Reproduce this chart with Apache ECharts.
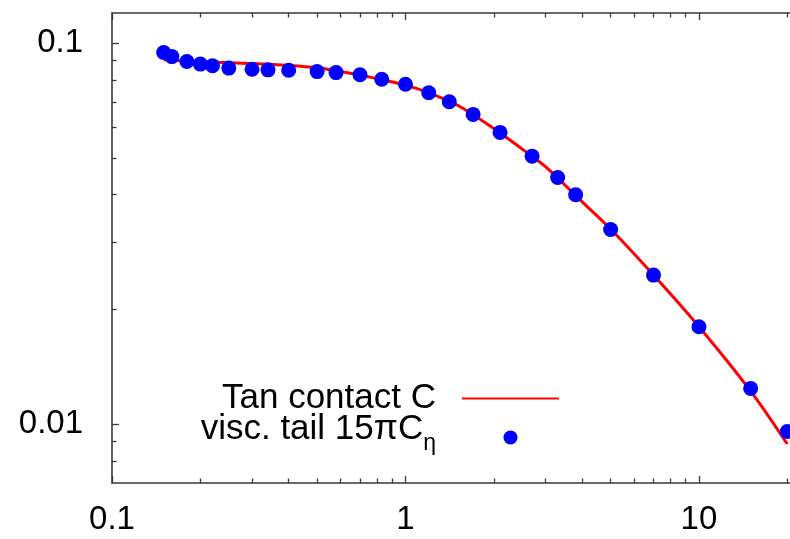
<!DOCTYPE html>
<html>
<head>
<meta charset="utf-8">
<script src="https://cdn.jsdelivr.net/npm/echarts@6/dist/echarts.min.js"></script>
<style>
html,body{margin:0;padding:0;background:#fff;}
#chart{width:790px;height:539px;}
</style>
</head>
<body>
<div id="chart"></div>
<script>
// ---- data ----
const lineX = [0.15, 0.17, 0.2, 0.25, 0.3, 0.4, 0.5, 0.6, 0.7, 0.8, 1.0, 1.2, 1.5, 2.0, 2.5, 3.0, 4.0, 5.0, 7.0, 10, 15, 20];
const lineY = [0.0905, 0.0899, 0.0893, 0.0888, 0.0884, 0.0874, 0.0862, 0.0843, 0.0825, 0.0806, 0.0776, 0.0741, 0.0688, 0.0597, 0.0527, 0.0474, 0.0383, 0.0325, 0.0246, 0.0180, 0.0122, 0.00886];
const dotX = [0.15, 0.16, 0.18, 0.2, 0.22, 0.25, 0.3, 0.34, 0.4, 0.5, 0.58, 0.7, 0.83, 1.0, 1.2, 1.41, 1.7, 2.1, 2.7, 3.3, 3.8, 5.0, 7.0, 10, 15, 20];
const dotY = [0.0945, 0.0922, 0.0895, 0.0881, 0.0872, 0.0860, 0.0854, 0.0851, 0.0849, 0.0842, 0.0837, 0.0826, 0.0804, 0.0780, 0.0741, 0.0702, 0.0650, 0.0583, 0.0505, 0.0444, 0.0400, 0.0324, 0.0246, 0.0180, 0.0124, 0.00956];
const xMajorTicks = [0.1, 1, 10];
const xMinorTicks = [0.2, 0.3, 0.4, 0.5, 0.6, 0.7, 0.8, 0.9, 2, 3, 4, 5, 6, 7, 8, 9, 20, 30];
const yMajorTicks = [0.01, 0.1];
const yMinorTicks = [0.008, 0.009, 0.02, 0.03, 0.04, 0.05, 0.06, 0.07, 0.08, 0.09];
const seriesNames = ['Tan contact C', 'visc. tail 15πCη'];

const FONT = 'Liberation Sans, Arial, Helvetica, sans-serif';
const AXC = '#3a3a3a';
const xRange = [0.1, 30];
const yRange = [0.007, 0.12];

function xAxisDef(pos, ticks, len, showLine, showLabel) {
  return {
    type: 'log', logBase: 10, position: pos, gridIndex: 0,
    min: xRange[0], max: xRange[1],
    axisLine: { show: showLine, lineStyle: { color: AXC, width: 1.6 } },
    axisTick: { show: true, inside: true, length: len, customValues: ticks, lineStyle: { color: AXC, width: 1.3 } },
    axisLabel: showLabel ? { show: true, customValues: ticks, fontSize: 33, fontFamily: FONT, color: '#000', margin: 20 } : { show: false },
    splitLine: { show: false }, minorTick: { show: false }
  };
}
function yAxisDef(pos, ticks, len, showLine, showLabel) {
  return {
    type: 'log', logBase: 10, position: pos, gridIndex: 0,
    min: yRange[0], max: yRange[1],
    axisLine: { show: showLine, lineStyle: { color: AXC, width: 1.6 } },
    axisTick: { show: true, inside: true, length: len, customValues: ticks, lineStyle: { color: AXC, width: 1.3 } },
    axisLabel: showLabel ? { show: true, customValues: ticks, fontSize: 33, fontFamily: FONT, color: '#000', margin: 29 } : { show: false },
    splitLine: { show: false }, minorTick: { show: false }
  };
}

const chart = echarts.init(document.getElementById('chart'), null, { renderer: 'canvas' });
chart.setOption({
  animation: false,
  backgroundColor: '#fff',
  grid: { left: 112, top: 13, width: 727, height: 470, containLabel: false, outerBoundsMode: 'none' },
  xAxis: [
    xAxisDef('bottom', xMajorTicks, 7, true, true),
    xAxisDef('bottom', xMinorTicks, 4.5, false, false),
    xAxisDef('top', xMajorTicks, 7, true, false),
    xAxisDef('top', xMinorTicks, 4.5, false, false)
  ],
  yAxis: [
    yAxisDef('left', yMajorTicks, 7, true, true),
    yAxisDef('left', yMinorTicks, 4.5, false, false),
    yAxisDef('right', yMajorTicks, 7, true, false),
    yAxisDef('right', yMinorTicks, 4.5, false, false)
  ],
  legend: {
    data: [
      { name: seriesNames[0], itemStyle: { opacity: 0 } },
      { name: seriesNames[1] }
    ],
    orient: 'vertical',
    align: 'right',
    right: 230,
    top: 381,
    padding: 0,
    itemGap: -4,
    itemWidth: 97,
    itemHeight: 14,
    textStyle: {
      fontFamily: FONT, fontSize: 35, color: '#000', padding: [0, 21, 0, 0],
      rich: {
        a: { fontFamily: FONT, fontSize: 35, color: '#000', padding: [0, 0, 16, 0] },
        s: { fontFamily: FONT, fontSize: 23, color: '#000', padding: [13, 0, 0, 0] }
      }
    },
    formatter: function (name) {
      if (name === seriesNames[1]) return '{a|visc. tail 15πC}{s|η}';
      return name;
    }
  },
  series: [
    {
      name: seriesNames[0], type: 'line', xAxisIndex: 0, yAxisIndex: 0,
      data: lineX.map((x, i) => [x, lineY[i]]),
      smooth: 0.3, symbol: 'none', showSymbol: false,
      lineStyle: { color: '#ff0000', width: 3 }, itemStyle: { color: '#ff0000' },
      z: 2
    },
    {
      name: seriesNames[1], type: 'scatter', xAxisIndex: 0, yAxisIndex: 0,
      data: dotX.map((x, i) => [x, dotY[i]]),
      symbol: 'circle', symbolSize: 15,
      itemStyle: { color: '#0000ff', opacity: 1 },
      z: 3
    }
  ]
});
</script>
</body>
</html>
